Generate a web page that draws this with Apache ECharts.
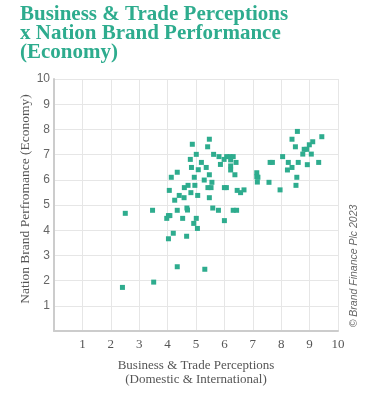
<!DOCTYPE html>
<html>
<head>
<meta charset="utf-8">
<script src="https://cdn.jsdelivr.net/npm/echarts@6/dist/echarts.min.js"></script>
<style>
html,body{margin:0;padding:0;background:#fff;}
#chart{width:384px;height:398px;}
</style>
</head>
<body>
<div id="chart"></div>
<script>
var titleLines = ["Business & Trade Perceptions", "x Nation Brand Performance", "(Economy)"];
var xAxisTitle = "Business & Trade Perceptions\n(Domestic & International)";
var yAxisTitle = "Nation Brand Perfromance (Economy)";
var credit = "© Brand Finance Plc 2023";

var xValues = [
  8.36, 8.57, 8.38, 9.43, 8.50, 9.11, 8.99, 8.90, 8.81, 8.76, 9.06, 8.05, 7.61, 7.69, 8.25, 8.60, 9.32, 8.92, 8.38, 8.22,
  8.55, 8.52, 7.14, 7.14, 7.18, 7.16, 7.57, 7.96, 6.69, 6.57, 6.45,
  5.47, 4.87, 5.41, 5.01, 5.62, 5.81, 6.08, 6.20, 6.31, 5.99, 6.22, 6.41, 6.22, 6.22, 6.37,
  4.80, 5.19, 5.86, 4.84, 5.36, 5.08, 4.34, 4.13, 4.94, 5.47, 5.29, 5.56, 4.72, 4.59, 4.96,
  5.42, 5.53, 6.00, 6.07, 4.06, 4.82, 4.41, 5.06, 4.58, 4.25, 5.47,
  2.51, 3.47, 4.34, 4.68, 4.70, 4.03, 4.08, 3.97, 4.53, 5.01, 4.92, 5.05, 4.20, 4.67, 4.03,
  5.59, 5.79, 6.00, 6.31, 6.43, 4.34, 5.31, 3.51, 2.41
];
var yValues = [
  10.05, 7.92, 7.61, 7.71, 7.31, 7.51, 7.39, 7.21, 7.21, 7.02, 7.02, 6.92, 6.69, 6.69, 6.69, 6.69, 6.69, 6.60, 6.49, 6.39,
  6.10, 5.78, 6.28, 6.12, 6.10, 5.91, 5.90, 5.60, 5.60, 5.49, 5.58,
  7.61, 7.41, 7.31, 7.01, 7.01, 6.92, 6.92, 6.92, 6.92, 6.81, 6.79, 6.69, 6.55, 6.39, 6.20,
  6.81, 6.69, 6.61, 6.49, 6.49, 6.40, 6.30, 6.10, 6.10, 6.20, 5.99, 5.90, 5.78, 5.69, 5.78,
  5.69, 5.69, 5.69, 5.69, 5.58, 5.49, 5.38, 5.38, 5.29, 5.19, 5.29,
  4.67, 4.79, 4.79, 4.88, 4.80, 4.58, 4.58, 4.47, 4.47, 4.47, 4.27, 4.07, 3.88, 3.76, 3.66,
  4.88, 4.79, 4.38, 4.79, 4.79, 2.55, 2.45, 1.94, 1.73
];

var points = xValues.map(function (x, i) { return [x, yValues[i]]; });
var teal = '#2eac8e';

var chart = echarts.init(document.getElementById('chart'), null, {renderer: 'canvas'});
chart.setOption({
  animation: false,
  backgroundColor: '#fff',
  title: {
    text: titleLines.join('\n'),
    left: 15, top: 0,
    textStyle: {
      fontFamily: 'Liberation Serif', fontWeight: 'bold', fontSize: 21,
      color: teal, lineHeight: 19
    }
  },
  grid: {left: 54, right: 46, top: 79, bottom: 67, containLabel: false},
  xAxis: {
    type: 'value', min: 0, max: 10, interval: 1,
    name: xAxisTitle, nameLocation: 'middle', nameGap: 28,
    nameTextStyle: {fontFamily: 'Liberation Serif', fontSize: 13, color: '#555', lineHeight: 14},
    axisLine: {show: true, lineStyle: {color: '#cccccc', width: 2}},
    axisTick: {show: false},
    axisLabel: {
      fontFamily: 'Liberation Serif', fontSize: 13, color: '#555', margin: 7,
      formatter: function (v) { return v === 0 ? '' : String(v); }
    },
    splitLine: {show: true, lineStyle: {color: '#e6e6e6', width: 1}}
  },
  yAxis: {
    type: 'value', min: 0, max: 10, interval: 1,
    name: yAxisTitle, nameLocation: 'middle', nameGap: 22, nameMoveOverlap: false,
    nameTextStyle: {fontFamily: 'Liberation Serif', fontSize: 13.5, color: '#555', padding: [0, 0, 0, 12]},
    axisLine: {show: true, lineStyle: {color: '#cccccc', width: 2}},
    axisTick: {show: false},
    axisLabel: {
      fontFamily: 'Liberation Sans', fontSize: 12, color: '#666', margin: 4,
      formatter: function (v) { return v === 0 ? '' : String(v); }
    },
    splitLine: {show: true, lineStyle: {color: '#e6e6e6', width: 1}}
  },
  graphic: [{
    type: 'text', x: 354, y: 266, rotation: Math.PI / 2,
    style: {
      text: credit, fill: '#666', font: 'italic 10.5px "Liberation Sans"',
      textAlign: 'center', textVerticalAlign: 'middle'
    }
  }],
  series: [{
    type: 'scatter', data: points, symbol: 'rect', symbolSize: 5,
    itemStyle: {color: teal, opacity: 1}
  }]
});
</script>
</body>
</html>
